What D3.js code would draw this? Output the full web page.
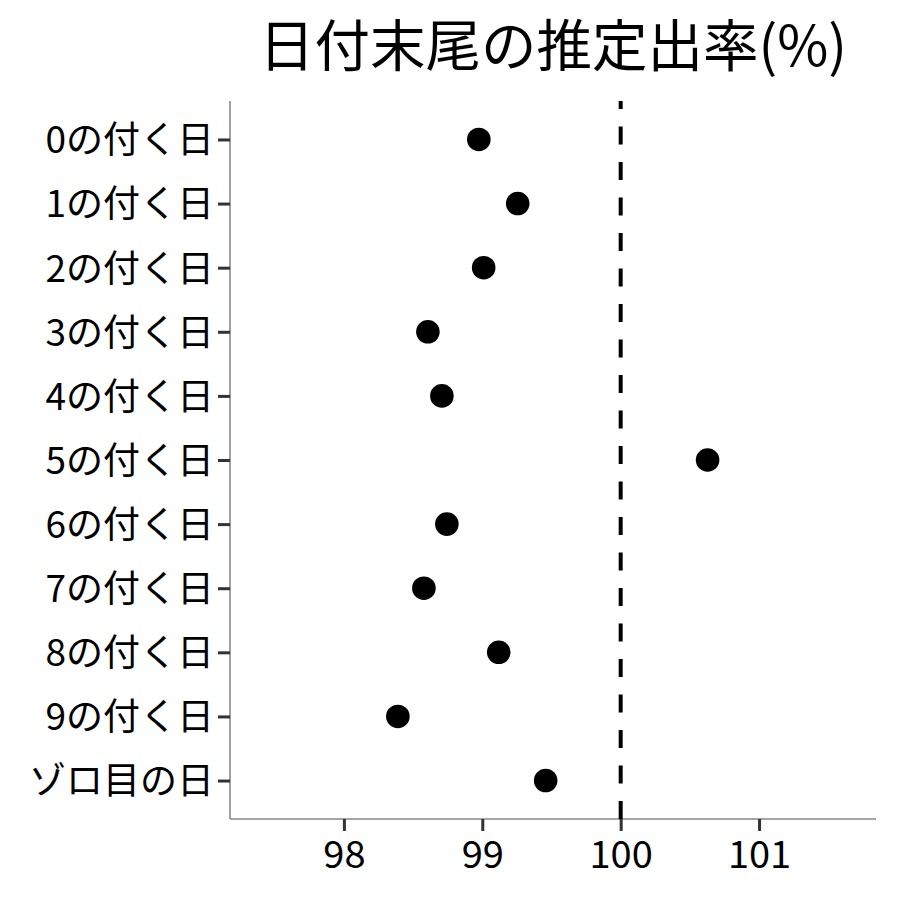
<!DOCTYPE html>
<html><head><meta charset="utf-8">
<script src="https://cdn.jsdelivr.net/npm/d3@7"></script>
<style>body{margin:0;background:#fff;} text{font-family:"Noto Sans CJK JP","Noto Sans",sans-serif;}</style>
</head><body><svg id="c" width="900" height="900"></svg>
<script>
const categories = ["0の付く日","1の付く日","2の付く日","3の付く日","4の付く日","5の付く日","6の付く日","7の付く日","8の付く日","9の付く日","ゾロ目の日"];
const values = [98.975, 99.256, 99.01, 98.607, 98.708, 100.628, 98.744, 98.578, 99.119, 98.39, 99.458];
const xTicks = [98, 99, 100, 101];
const refValue = 100;
const title = "日付末尾の推定出率(%)";

const svg = d3.select("#c");
const L = 230, R = 876, T = 101, B = 819;
const x = d3.scaleLinear().domain([97.177, 101.845]).range([L, R]);
const y = d3.scalePoint().domain(categories).range([T, B]).padding(0.6);

// axes
const xa = svg.append("g").attr("transform", `translate(0,${B})`)
  .call(d3.axisBottom(x).tickValues(xTicks).tickSize(12).tickPadding(6).tickFormat(d3.format("d")));
const ya = svg.append("g").attr("transform", `translate(${L},0)`)
  .call(d3.axisLeft(y).tickSize(12).tickPadding(4));
[xa, ya].forEach(g => {
  g.select(".domain").attr("stroke", "#888").attr("stroke-width", 1.6);
  g.selectAll(".tick line").attr("stroke", "#333").attr("stroke-width", 3);
  g.selectAll(".tick text").attr("fill", "#000");
});
ya.selectAll(".tick text").style("font-size", "37px").attr("dy", "0.36em");
xa.selectAll(".tick text").style("font-size", "38px").attr("y", 49).attr("dy", 0);
xa.select(".domain").attr("d", `M${L},0H${R}`);
ya.select(".domain").attr("d", `M0,${T}V${B}`);

// reference line
svg.append("line").attr("x1", x(refValue)).attr("x2", x(refValue))
  .attr("y1", B).attr("y2", T)
  .attr("stroke", "#000").attr("stroke-width", 4).attr("stroke-dasharray", "18,17.5");

// points
svg.append("g").selectAll("circle").data(values).join("circle")
  .attr("cx", d => x(d)).attr("cy", (d, i) => y(categories[i]))
  .attr("r", 11.8).attr("fill", "#000");

// title
svg.append("text").attr("x", (L + R) / 2).attr("y", 66).attr("text-anchor", "middle")
  .style("font-size", "55.5px").attr("fill", "#000").text(title);
</script></body></html>
